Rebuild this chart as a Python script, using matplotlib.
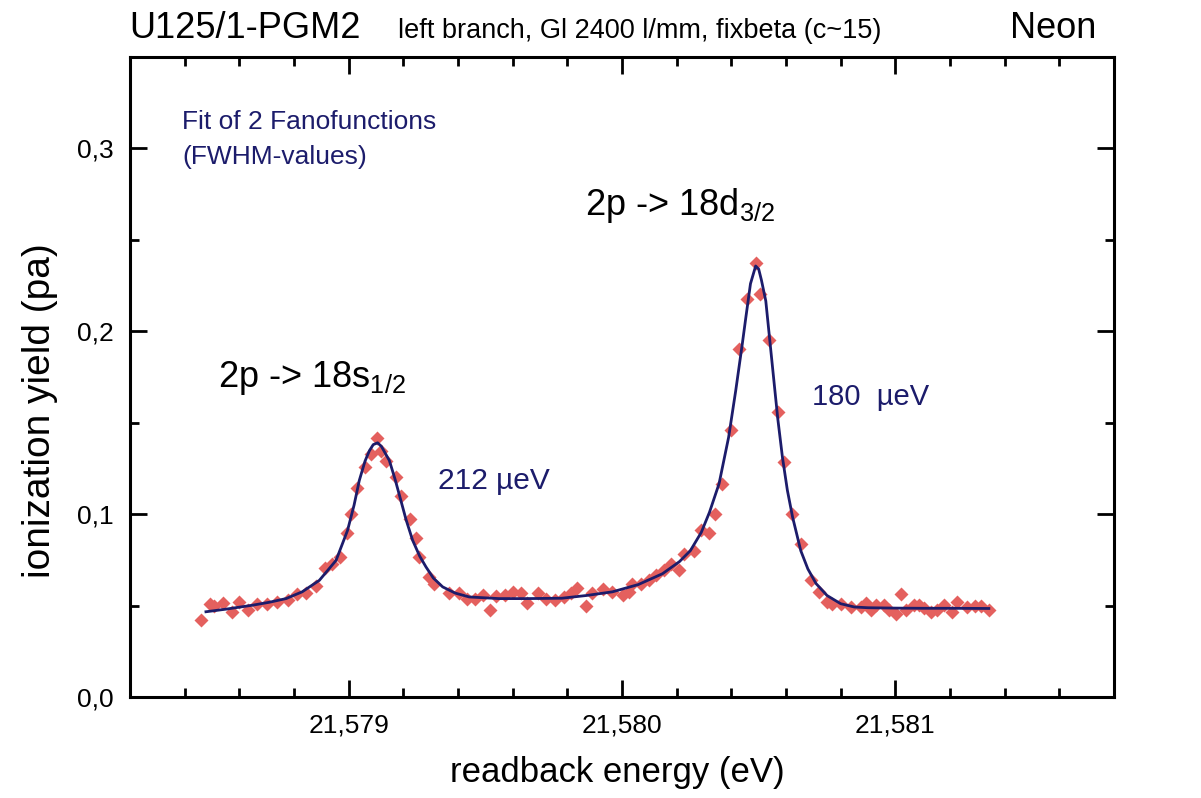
import numpy as np
import matplotlib
matplotlib.use("Agg")
import matplotlib.pyplot as plt
from matplotlib.ticker import MultipleLocator, FixedLocator, FuncFormatter

plt.rcParams['font.family'] = ['Liberation Sans', 'DejaVu Sans']
plt.rcParams['mathtext.fontset'] = 'custom'
plt.rcParams['mathtext.rm'] = 'Liberation Sans'
plt.rcParams['mathtext.it'] = 'Liberation Sans:italic'

# measured points (eV, pa)
energy = [21.578460, 21.578492, 21.578509, 21.578540, 21.578572, 21.578599, 21.578631, 21.578665, 21.578700, 21.578737,
          21.578780, 21.578811, 21.578845, 21.578880, 21.578913, 21.578940, 21.578970, 21.578995, 21.579007,
          21.579030, 21.579059, 21.579080, 21.579104, 21.579118, 21.579137, 21.579172, 21.579193, 21.579223, 21.579246, 21.579258,
          21.579295, 21.579313, 21.579368, 21.579403, 21.579432, 21.579463, 21.579490, 21.579517, 21.579539,
          21.579572, 21.579603, 21.579630, 21.579654, 21.579691, 21.579721, 21.579756, 21.579789, 21.579815,
          21.579837, 21.579868, 21.579892, 21.579929, 21.579965,
          21.580002, 21.580026, 21.580038, 21.580069, 21.580099, 21.580124, 21.580154, 21.580178, 21.580209, 21.580227,
          21.580262, 21.580288, 21.580319, 21.580339, 21.580367, 21.580398, 21.580429, 21.580459, 21.580492, 21.580504,
          21.580536, 21.580569, 21.580593, 21.580621, 21.580654, 21.580690, 21.580721, 21.580751, 21.580770, 21.580800,
          21.580837, 21.580873, 21.580892, 21.580910, 21.580928, 21.580958, 21.580977,
          21.581001, 21.581019, 21.581038, 21.581068, 21.581086, 21.581105, 21.581129, 21.581153, 21.581178, 21.581208,
          21.581226, 21.581263, 21.581293, 21.581315, 21.581342]
yield_pa = [0.0420, 0.0510, 0.0495, 0.0515, 0.0463, 0.0518, 0.0473, 0.0510, 0.0510, 0.0520,
            0.0529, 0.0564, 0.0567, 0.0606, 0.0704, 0.0729, 0.0766, 0.0897, 0.1002,
            0.1142, 0.1256, 0.1328, 0.1418, 0.1347, 0.1293, 0.1202, 0.1098, 0.0975, 0.0868, 0.0766,
            0.0656, 0.0620, 0.0566, 0.0566, 0.0538, 0.0538, 0.0556, 0.0476, 0.0552,
            0.0556, 0.0572, 0.0566, 0.0512, 0.0566, 0.0538, 0.0529, 0.0547, 0.0566,
            0.0598, 0.0496, 0.0569, 0.0593, 0.0575,
            0.0556, 0.0575, 0.0620, 0.0620, 0.0638, 0.0666, 0.0693, 0.0729, 0.0697, 0.0784,
            0.0798, 0.0911, 0.0896, 0.1000, 0.1166, 0.1460, 0.1902, 0.2175, 0.2375, 0.2206,
            0.1951, 0.1556, 0.1284, 0.0998, 0.0838, 0.0638, 0.0572, 0.0522, 0.0511, 0.0511,
            0.0493, 0.0493, 0.0515, 0.0475, 0.0502, 0.0502, 0.0475,
            0.0456, 0.0561, 0.0475, 0.0502, 0.0502, 0.0484, 0.0466, 0.0475, 0.0502, 0.0466,
            0.0520, 0.0493, 0.0495, 0.0500, 0.0478]

# fit of two Fano functions
fit_energy = [21.578478, 21.57855, 21.578649, 21.57871, 21.578771, 21.57883, 21.578893, 21.578954, 21.578996, 21.57902,
              21.579039, 21.57906, 21.579076, 21.57909, 21.579106, 21.57912, 21.579149, 21.57917, 21.579191, 21.57921,
              21.579234, 21.57926, 21.579283, 21.57931, 21.579344, 21.57939, 21.579441, 21.57955, 21.57965, 21.57978,
              21.57987, 21.579965, 21.58006, 21.580148, 21.58021, 21.58025, 21.58029, 21.58032, 21.580355, 21.58039,
              21.580416, 21.58044, 21.580453, 21.58047, 21.580489, 21.5805, 21.58051, 21.580526, 21.58054, 21.580557,
              21.58057, 21.580587, 21.580605, 21.580624, 21.580654, 21.58068, 21.58071, 21.58075, 21.5808, 21.58085,
              21.5809, 21.581, 21.5811, 21.5812, 21.581342]
fit_yield = [0.0466, 0.0480, 0.0502, 0.0518, 0.0538, 0.0575, 0.0638, 0.0747, 0.0911, 0.1050,
             0.1184, 0.1290, 0.1347, 0.1380, 0.1390, 0.1370, 0.1293, 0.1190, 0.1075, 0.0970,
             0.0857, 0.0770, 0.0711, 0.0650, 0.0602, 0.0568, 0.0547, 0.0538, 0.0538, 0.0540,
             0.0555, 0.0575, 0.0615, 0.0674, 0.0740, 0.0800, 0.0900, 0.1010, 0.1166, 0.1420,
             0.1675, 0.1930, 0.2075, 0.2260, 0.2357, 0.2340, 0.2280, 0.2166, 0.1960, 0.1710,
             0.1520, 0.1310, 0.1130, 0.0984, 0.0800, 0.0700, 0.0620, 0.0555, 0.0510, 0.0492,
             0.0488, 0.0486, 0.0485, 0.0485, 0.0484]

x_major = [21.579, 21.580, 21.581]
y_major = [0.0, 0.1, 0.2, 0.3]

navy = '#1c1c6b'
red = '#e4605e'

fig = plt.figure(figsize=(12.01, 7.98), dpi=100)
ax = fig.add_axes([0.1082, 0.1266, 0.8194, 0.802])

ax.plot(energy, yield_pa, linestyle='none', marker='D', ms=7.5, color=red, mec='none', zorder=2)
ax.plot(fit_energy, fit_yield, color=navy, lw=2.0, zorder=3)

ax.set_xlim(21.5782, 21.5818)
ax.set_ylim(0, 0.35)

ax.xaxis.set_major_locator(FixedLocator(x_major))
ax.xaxis.set_minor_locator(MultipleLocator(0.0002))
ax.yaxis.set_major_locator(FixedLocator(y_major))
ax.yaxis.set_minor_locator(MultipleLocator(0.05))
ax.xaxis.set_major_formatter(FuncFormatter(lambda v, p: f"{v:.3f}".replace('.', ',')))
ax.yaxis.set_major_formatter(FuncFormatter(lambda v, p: f"{v:.1f}".replace('.', ',')))

ax.tick_params(which='both', direction='in', top=True, right=True, width=2, color='black')
ax.tick_params(which='major', length=12, labelsize=19, pad=12)
ax.tick_params(which='minor', length=6.5)
for s in ax.spines.values():
    s.set_linewidth(2.2)

ax.set_xlabel('readback energy (eV)', fontsize=25)
ax.xaxis.set_label_coords(0.495, -0.092)
ax.set_ylabel('ionization yield (pa)', fontsize=28)
ax.yaxis.set_label_coords(-0.073, 0.447)

fig.text(0.108, 0.952, 'U125/1-PGM2', fontsize=26)
fig.text(0.331, 0.952, 'left branch, Gl 2400 l/mm, fixbeta (c~15)', fontsize=19.5)
fig.text(0.913, 0.952, 'Neon', fontsize=26, ha='right')

ax.text(0.053, 0.898, 'Fit of 2 Fanofunctions', color=navy, fontsize=19, va='center', transform=ax.transAxes)
ax.text(0.053, 0.844, '(FWHM-values)', color=navy, fontsize=19, va='center', transform=ax.transAxes)
ax.text(0.089, 0.484, r'2p -> 18s$_{\mathregular{1/2}}$', fontsize=26, va='baseline', transform=ax.transAxes)
ax.text(0.462, 0.753, r'2p -> 18d$_{\mathregular{3/2}}$', fontsize=26, va='baseline', transform=ax.transAxes)
ax.text(0.313, 0.3375, '212 µeV', color=navy, fontsize=21.5, va='center', transform=ax.transAxes)
ax.text(0.693, 0.469, '180  µeV', color=navy, fontsize=21, va='center', transform=ax.transAxes)

fig.savefig('out.png', dpi=100)
